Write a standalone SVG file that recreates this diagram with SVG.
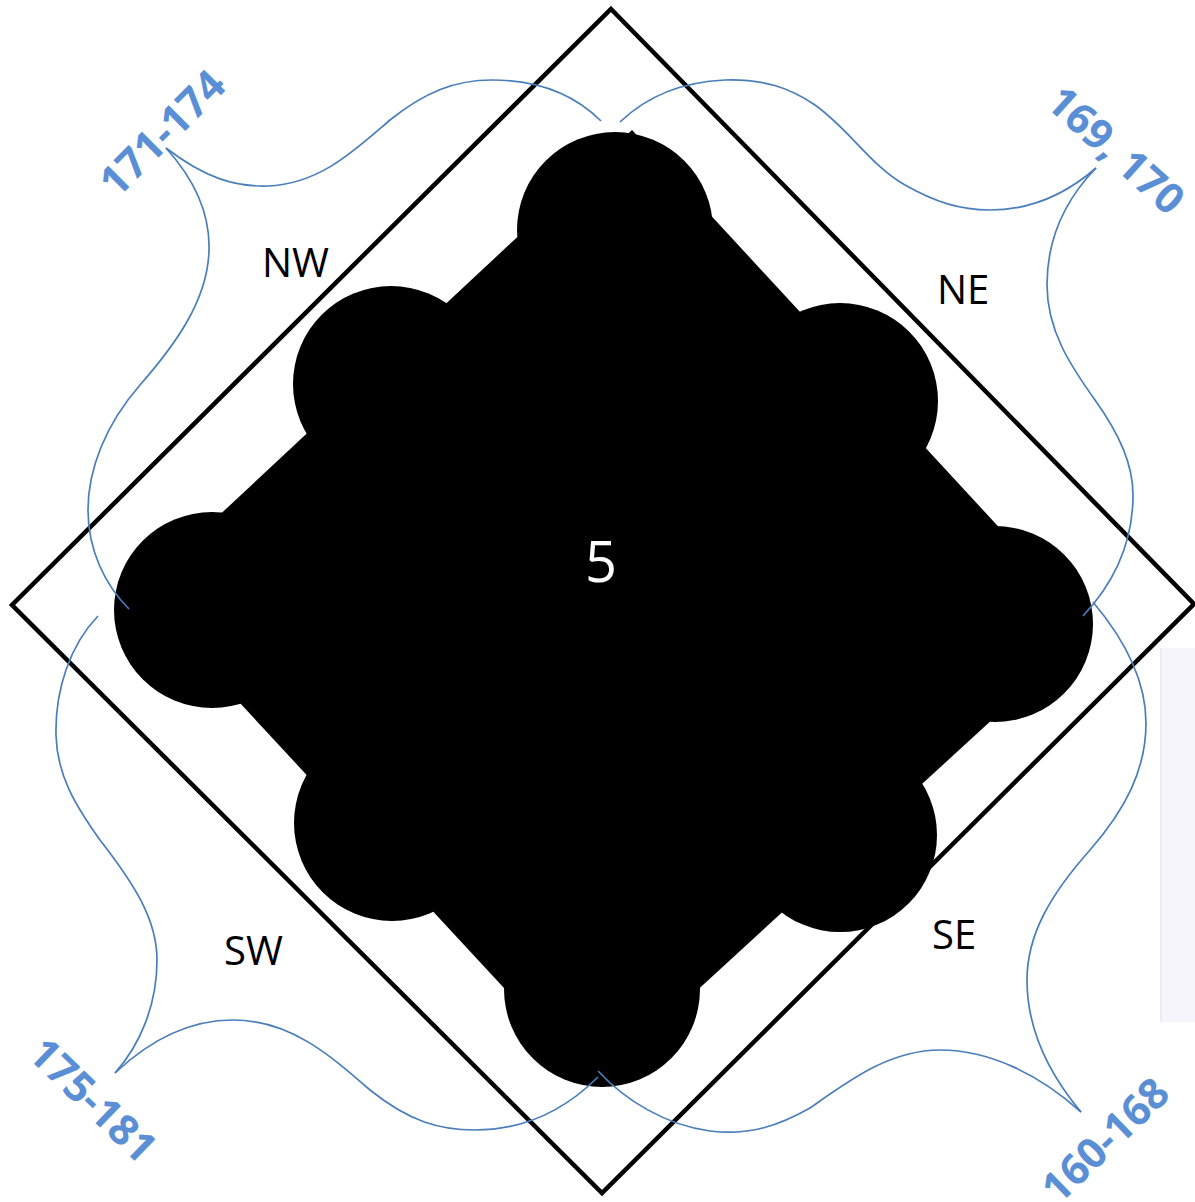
<svg xmlns="http://www.w3.org/2000/svg" width="1195" height="1202" viewBox="0 0 1195 1202">
<style>
.blob{fill:#000}
.frame{fill:none;stroke:#000;stroke-width:4.5;stroke-linejoin:miter}
.curve{fill:none;stroke:#4a7ebb;stroke-width:1.7}
.dir{font-family:"Open Sans","Noto Sans",sans-serif;font-size:40px;fill:#000}
.num{font-family:"Open Sans","Noto Sans",sans-serif;font-size:42px;font-weight:bold;fill:#5a8fd5}
.center{font-family:"Open Sans","Noto Sans",sans-serif;font-size:56px;fill:#fff}
</style>
<rect width="1195" height="1202" fill="#fff"/>
<rect x="1160" y="648" width="35" height="374" fill="#f5f5fb"/>
<line x1="1161" y1="648" x2="1161" y2="1022" stroke="#ececf4" stroke-width="2"/>
<g id="frame">
<polygon class="frame" points="611,9 1194,604 602,1193 12,605"/>
</g>
<g id="node-5">
<polygon class="blob" points="632,130 1092,628 594,1085 137,592"/>
<circle class="blob" cx="615" cy="230" r="98"/>
<circle class="blob" cx="391" cy="384" r="98"/>
<circle class="blob" cx="840" cy="401" r="98"/>
<circle class="blob" cx="212" cy="610" r="98"/>
<circle class="blob" cx="995" cy="624" r="98"/>
<circle class="blob" cx="392" cy="823" r="98"/>
<circle class="blob" cx="840" cy="835" r="97"/>
<circle class="blob" cx="602" cy="989" r="98"/>
<text class="center" x="601" y="582" text-anchor="middle">5</text>
</g>
<g id="connectors">
<path class="curve" d="M166,148 C205,178 235,187 268,186 C320,184 355,150 390,120 C425,92 455,80 492,80 C540,80 575,95 601,121"/>
<path class="curve" d="M166,148 C195,180 210,215 209,250 C208,300 175,345 140,385 C105,425 88,470 88,510 C88,550 105,585 129,609"/>
<path class="curve" d="M620,122 C645,98 680,82 725,80 C765,79 790,88 815,105 C850,130 870,165 905,185 C935,202 960,210 990,210 C1030,210 1065,195 1096,168"/>
<path class="curve" d="M1096,168 C1065,200 1047,240 1047,285 C1047,330 1070,365 1095,400 C1120,435 1133,465 1133,495 C1133,545 1112,585 1083,616"/>
<path class="curve" d="M1093,602 C1125,640 1146,680 1146,723 C1146,770 1125,810 1090,850 C1050,895 1027,935 1027,980 C1027,1030 1050,1075 1081,1112"/>
<path class="curve" d="M598,1071 C625,1100 665,1125 710,1131 C750,1136 780,1125 810,1108 C850,1080 890,1050 940,1050 C990,1050 1040,1075 1081,1112"/>
<path class="curve" d="M115,1073 C150,1040 190,1020 233,1020 C290,1020 330,1055 370,1090 C410,1122 440,1130 475,1130 C530,1130 570,1105 598,1077"/>
<path class="curve" d="M98,616 C70,645 55,690 56,735 C57,775 75,805 100,840 C135,885 157,920 157,960 C157,1005 140,1045 115,1073"/>
</g>
<g id="label-NW"><text class="dir" x="262" y="277">NW</text></g>
<g id="label-NE"><text class="dir" x="937" y="304">NE</text></g>
<g id="label-SE"><text class="dir" x="932" y="949">SE</text></g>
<g id="label-SW"><text class="dir" x="224" y="965">SW</text></g>
<g id="label-171-174"><text class="num" text-anchor="middle" transform="translate(162,133) rotate(-45)" x="0" y="15">171-174</text></g>
<g id="label-169-170"><text class="num" text-anchor="middle" transform="translate(1116,150) rotate(42)" x="0" y="15">169, 170</text></g>
<g id="label-175-181"><text class="num" text-anchor="middle" transform="translate(93,1100) rotate(44)" x="0" y="15">175-181</text></g>
<g id="label-160-168"><text class="num" text-anchor="middle" transform="translate(1105,1140) rotate(-44)" x="0" y="15">160-168</text></g>
</svg>
